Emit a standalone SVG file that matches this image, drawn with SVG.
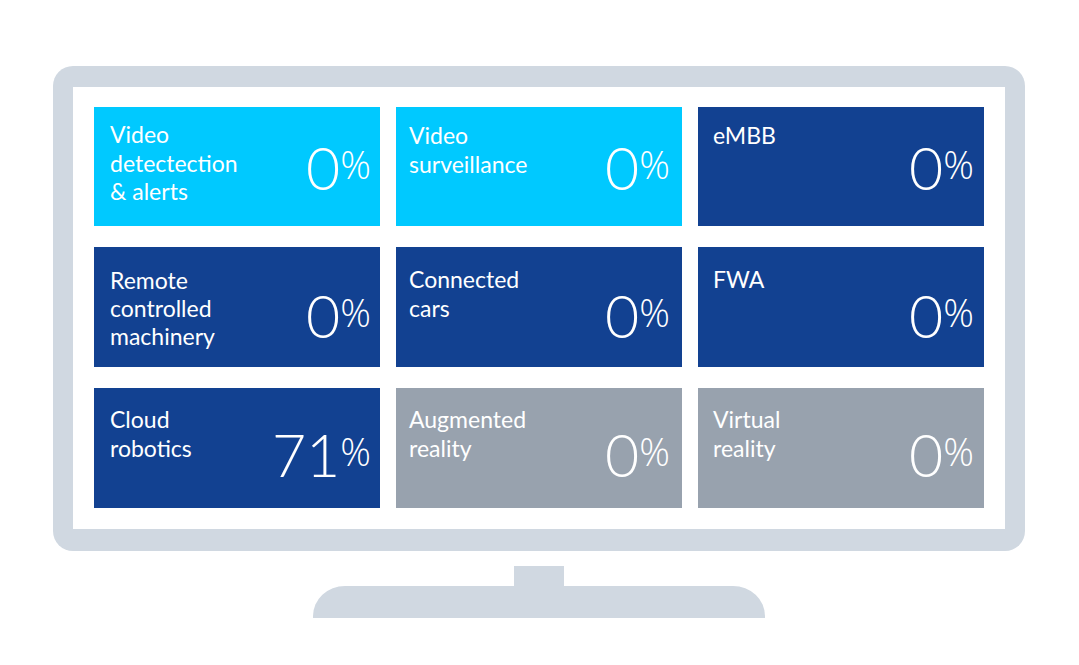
<svg xmlns="http://www.w3.org/2000/svg" width="1079" height="665" viewBox="0 0 1079 665">
<style>
.frame{fill:#D0D8E1}
.screen{fill:#FFFFFF}
.cyan{fill:#00C9FF}
.blue{fill:#124191}
.gray{fill:#98A2AE}
.lbl{font-family:Lato,"Liberation Sans",sans-serif;font-size:23px;fill:#FFFFFF}
.pct{font-family:Lato,"Liberation Sans",sans-serif;font-size:59px;font-weight:300;fill:#FFFFFF;text-anchor:end}
.sym{font-family:"Open Sans","Liberation Sans",sans-serif;font-size:38px;font-weight:300}
</style>
<rect width="1079" height="665" fill="#FFFFFF"/>
<g id="monitor">
<rect class="frame" x="53" y="66" width="972" height="485" rx="20" ry="20"/>
<rect class="screen" x="73" y="87" width="932" height="442"/>
<rect class="frame" x="514" y="566" width="50" height="22"/>
<path class="frame" d="M313,618 V616 A32,30 0 0 1 345,586 H733 A32,30 0 0 1 765,616 V618 Z"/>
</g>
<g id="connectors"/>
<g id="tile-video-detection">
<rect class="cyan" x="94" y="107" width="286" height="119"/>
<text class="lbl" x="110" y="143">Video</text>
<text class="lbl" x="110" y="172">detectection</text>
<text class="lbl" x="110" y="200">&amp; alerts</text>
<text class="pct" x="371" y="190">0<tspan class="sym" dy="-11">%</tspan></text>
</g>
<g id="tile-video-surveillance">
<rect class="cyan" x="396" y="107" width="286" height="119"/>
<text class="lbl" x="409" y="144">Video</text>
<text class="lbl" x="409" y="173">surveillance</text>
<text class="pct" x="670" y="190">0<tspan class="sym" dy="-11">%</tspan></text>
</g>
<g id="tile-embb">
<rect class="blue" x="698" y="107" width="286" height="119"/>
<text class="lbl" x="713" y="144">eMBB</text>
<text class="pct" x="974" y="190">0<tspan class="sym" dy="-11">%</tspan></text>
</g>
<g id="tile-remote">
<rect class="blue" x="94" y="247" width="286" height="120"/>
<text class="lbl" x="110" y="289">Remote</text>
<text class="lbl" x="110" y="317">controlled</text>
<text class="lbl" x="110" y="345">machinery</text>
<text class="pct" x="371" y="338">0<tspan class="sym" dy="-11">%</tspan></text>
</g>
<g id="tile-connected-cars">
<rect class="blue" x="396" y="247" width="286" height="120"/>
<text class="lbl" x="409" y="288">Connected</text>
<text class="lbl" x="409" y="317">cars</text>
<text class="pct" x="670" y="338">0<tspan class="sym" dy="-11">%</tspan></text>
</g>
<g id="tile-fwa">
<rect class="blue" x="698" y="247" width="286" height="120"/>
<text class="lbl" x="713" y="288">FWA</text>
<text class="pct" x="974" y="338">0<tspan class="sym" dy="-11">%</tspan></text>
</g>
<g id="tile-cloud-robotics">
<rect class="blue" x="94" y="388" width="286" height="120"/>
<text class="lbl" x="110" y="428">Cloud</text>
<text class="lbl" x="110" y="457">robotics</text>
<text class="pct" x="371" y="477">71<tspan class="sym" dy="-11">%</tspan></text>
</g>
<g id="tile-augmented-reality">
<rect class="gray" x="396" y="388" width="286" height="120"/>
<text class="lbl" x="409" y="428">Augmented</text>
<text class="lbl" x="409" y="457">reality</text>
<text class="pct" x="670" y="477">0<tspan class="sym" dy="-11">%</tspan></text>
</g>
<g id="tile-virtual-reality">
<rect class="gray" x="698" y="388" width="286" height="120"/>
<text class="lbl" x="713" y="428">Virtual</text>
<text class="lbl" x="713" y="457">reality</text>
<text class="pct" x="974" y="477">0<tspan class="sym" dy="-11">%</tspan></text>
</g>
</svg>
